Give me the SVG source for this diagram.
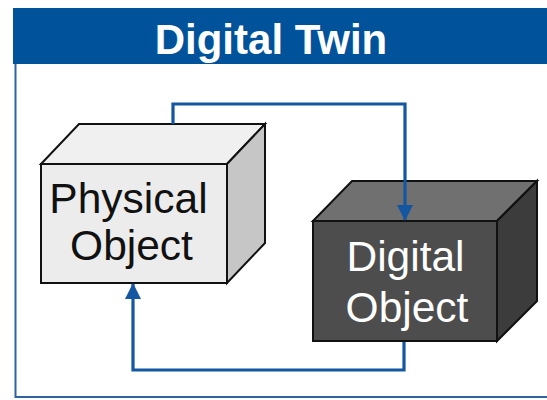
<svg xmlns="http://www.w3.org/2000/svg" width="547" height="400" viewBox="0 0 547 400">
  <style>
    .frame { fill: none; stroke: #2f64a0; stroke-width: 2; }
    .edge { stroke: #111; stroke-width: 2; stroke-linejoin: miter; }
    .link { fill: none; stroke: #1457a0; stroke-width: 3.2; }
    .label { font-family: "Liberation Sans", Arial, sans-serif; font-size: 42.5px; text-anchor: middle; }
    .title { font-family: "Liberation Sans", Arial, sans-serif; font-size: 42px; font-weight: bold; fill: #fff; text-anchor: middle; }
  </style>
  <defs>
    <marker id="arrow" viewBox="0 0 16 16" refX="15" refY="8" markerWidth="16" markerHeight="16" markerUnits="userSpaceOnUse" orient="auto">
      <path d="M0,0 L16,8 L0,16 Z" fill="#1457a0"/>
    </marker>
  </defs>

  <rect width="547" height="400" fill="#fff"/>

  <!-- outer frame and title band -->
  <g id="frame">
    <path class="frame" d="M15.5,64 V397 H547"/>
    <rect x="13" y="8" width="540" height="56" fill="#00539b"/>
    <text class="title" x="271" y="54">Digital Twin</text>
  </g>

  <!-- physical object cube -->
  <g id="physical-object">
    <polygon class="edge" fill="#f0f0f0" points="41,164 79,124 265,124 227,164"/>
    <polygon class="edge" fill="#c6c6c6" points="227,164 265,124 265,243 227,283"/>
    <rect class="edge" x="41" y="164" width="186" height="119" fill="#ececec"/>
    <text class="label" fill="#111" x="128.5" y="213">Physical</text>
    <text class="label" fill="#111" x="131.5" y="260">Object</text>
  </g>

  <!-- digital object cube -->
  <g id="digital-object">
    <polygon class="edge" fill="#707070" points="313,221 352,181 537,181 497,221"/>
    <polygon class="edge" fill="#3c3c3c" points="497,221 537,181 537,301 497,341"/>
    <rect class="edge" x="313" y="221" width="184" height="120" fill="#4d4d4d"/>
    <text class="label" fill="#fff" x="405.5" y="271">Digital</text>
    <text class="label" fill="#fff" x="407" y="322">Object</text>
  </g>

  <!-- connectors, drawn over the cubes -->
  <g id="connectors">
    <path class="link" d="M173,124 V104 H405 V220" marker-end="url(#arrow)"/>
    <path class="link" d="M404,342 V370 H133 V284" marker-end="url(#arrow)"/>
  </g>
</svg>
